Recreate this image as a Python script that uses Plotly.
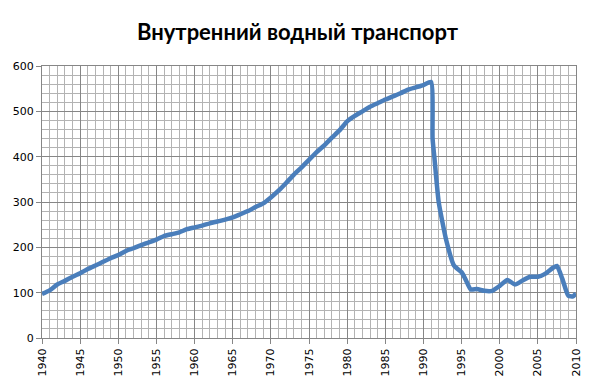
import plotly.graph_objects as go

years = [1940, 1941, 1942, 1943, 1944, 1945, 1946, 1947, 1948, 1949,
         1950, 1951, 1952, 1953, 1954, 1955, 1956, 1957, 1958, 1959,
         1960, 1961, 1962, 1963, 1964, 1965, 1966, 1967, 1968, 1969,
         1970, 1971, 1972, 1973, 1974, 1975, 1976, 1977, 1978, 1979,
         1980, 1981, 1982, 1983, 1984, 1985, 1986, 1987, 1988, 1989,
         1990, 1991, 1991.2, 1991.45, 1992, 1993, 1994, 1995, 1995.5, 1996.2,
         1997, 1998, 1999, 2000, 2001, 2002, 2003, 2004, 2005, 2006,
         2007, 2007.5, 2008.2, 2009, 2009.6, 2010]
values = [97, 105, 118, 126, 135, 143, 152, 160, 168, 176,
          183, 192, 198, 205, 211, 217, 225, 229, 233, 240,
          244, 248, 253, 257, 261, 266, 273, 280, 289, 297,
          310, 325, 342, 360, 376, 393, 410, 425, 442, 458,
          478, 490, 500, 510, 518, 526, 533, 540, 548, 553,
          558, 565, 440, 396, 300, 215, 160, 145, 130, 107,
          108, 104, 104, 115, 128, 118, 127, 135, 135, 142,
          155, 159, 131, 93, 92, 98]

x_ticks = list(range(1940, 2011, 5))
y_ticks = list(range(0, 601, 100))
title = "Внутренний водный транспорт"

fig = go.Figure()
fig.add_trace(go.Scatter(
    x=years, y=values, mode="lines",
    line=dict(color="#4A7EBB", width=4.5, shape="spline", smoothing=0.5),
    hoverinfo="skip", showlegend=False,
))

fig.update_layout(
    width=595, height=388,
    margin=dict(l=42, r=19, t=66, b=46),
    paper_bgcolor="white", plot_bgcolor="white",
    title=dict(text="<b>" + title + "</b>", x=0.5, xanchor="center",
               y=0.918, yanchor="middle",
               font=dict(family="Lato, Open Sans, sans-serif", size=22, color="#000000")),
    font=dict(family="DejaVu Sans, sans-serif", size=11, color="#000000"),
)

fig.update_xaxes(
    range=[1940, 2010], tickvals=x_ticks, ticktext=[str(t) for t in x_ticks],
    tickangle=-90, ticks="outside", ticklen=5, tickcolor="#868686",
    showgrid=True, gridcolor="#868686", gridwidth=1,
    minor=dict(dtick=1, showgrid=True, gridcolor="#B3B3B3", gridwidth=1, ticks=""),
    showline=True, linecolor="#868686", linewidth=1, mirror=True,
    zeroline=False, tickfont=dict(size=11),
)
fig.update_yaxes(
    range=[0, 600], tickvals=y_ticks, ticktext=[str(t) for t in y_ticks],
    ticks="outside", ticklen=5, tickcolor="#868686",
    showgrid=True, gridcolor="#868686", gridwidth=1,
    minor=dict(dtick=20, showgrid=True, gridcolor="#B3B3B3", gridwidth=1, ticks=""),
    showline=True, linecolor="#868686", linewidth=1, mirror=True,
    zeroline=False, tickfont=dict(size=11),
)

fig.write_html("out.html")
